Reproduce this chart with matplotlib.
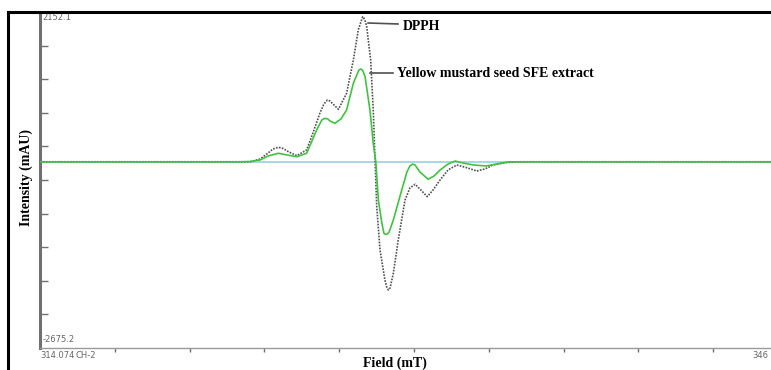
import numpy as np
import matplotlib.pyplot as plt
from matplotlib.lines import Line2D

# field (mT) and intensity (mAU)
dpph_field = [314.074, 320.0, 322.63, 323.06, 323.49, 323.83, 324.04, 324.27, 324.48, 324.64,
              325.06, 325.48, 325.75, 326.05, 326.22, 326.37, 326.48, 326.61, 326.84, 327.19,
              327.48, 327.69, 327.79, 327.88, 327.97, 328.05, 328.22, 328.33, 328.41, 328.48,
              328.62, 328.83, 328.91, 328.98, 329.05, 329.19, 329.40, 329.69, 329.90, 330.12,
              330.37, 330.64, 330.89, 331.19, 331.53, 331.90, 332.30, 332.76, 333.11, 333.45,
              334.04, 334.61, 340.0, 346.074]
dpph_int = [0, 0, 0, 0, 40, 126, 184, 208, 191, 155,
            88, 170, 414, 701, 830, 888, 873, 830, 754, 984,
            1463, 1894, 1997, 2085, 2043, 1941, 1463, 744, 0, -645,
            -1267, -1698, -1799, -1842, -1813, -1602, -1124, -549, -376, -323,
            -405, -501, -405, -261, -118, -46, -82, -132, -103, -46,
            -10, 0, 0, 0]

sfe_field = [314.074, 320.0, 322.63, 323.06, 323.49, 323.83, 324.27, 324.64, 325.06, 325.48,
             325.91, 326.13, 326.26, 326.39, 326.48, 326.69, 326.95, 327.19, 327.48, 327.68,
             327.72, 327.80, 327.88, 327.98, 328.19, 328.33, 328.44, 328.55, 328.70, 328.79,
             328.87, 328.94, 329.01, 329.19, 329.55, 329.77, 329.90, 330.02, 330.12, 330.33,
             330.68, 330.93, 331.19, 331.53, 331.83, 332.17, 332.62, 333.18, 333.75, 334.18,
             340.0, 346.074]
sfe_int = [0, 0, 0, 4, 26, 83, 122, 98, 73, 122,
           457, 600, 625, 615, 586, 553, 615, 744, 1128, 1290,
           1319, 1333, 1312, 1223, 744, 266, 0, -549, -884, -1030,
           -1042, -1037, -1009, -836, -405, -147, -60, -32, -46, -147,
           -251, -204, -118, -32, 11, -17, -46, -60, -22, 0,
           0, 0]

y_min, y_max = -2675.2, 2152.1
x_min, x_max = 314.074, 346.074

W, H = 771, 370
fig = plt.figure(figsize=(W / 100, H / 100), dpi=100)
fig.patch.set_facecolor("white")

# axes run a bit past the right edge of the picture, like the original crop
ax = fig.add_axes([40 / W, (H - 348) / H, (788 - 40) / W, 336 / H])
ax.set_xlim(x_min, x_max)
ax.set_ylim(y_min, y_max)

ax.axhline(0, color="#9fd3e3", lw=1.3, zorder=1)
ax.plot(dpph_field, dpph_int, color="#505050", lw=1.2, ls=(0, (1, 0.8)), zorder=2)
ax.plot(sfe_field, sfe_int, color="#3fc43f", lw=1.2, zorder=3)

for s in ["top", "right"]:
    ax.spines[s].set_visible(False)
ax.spines["left"].set_color("#707070")
ax.spines["left"].set_linewidth(2.2)
ax.spines["bottom"].set_color("#9a9a9a")
ax.spines["bottom"].set_linewidth(1.0)

ax.set_yticks(np.linspace(y_min, y_max, 11)[1:-1])
ax.set_xticks(np.linspace(x_min, x_max, 11)[1:-1])
ax.tick_params(axis="y", direction="in", length=6, width=1, color="#707070", labelleft=False)
ax.tick_params(axis="x", direction="out", length=3, width=1, color="#707070", labelbottom=False)

small = dict(fontsize=6, color="#666666", family="DejaVu Sans")
ax.text(0.003, 0.998, "2152.1", transform=ax.transAxes, va="top", ha="left", **small)
ax.text(0.003, 0.012, "-2675.2", transform=ax.transAxes, va="bottom", ha="left", **small)
fig.text(40 / W, 1 - 351 / H, "314.074", va="top", ha="left", **small)
fig.text(76 / W, 1 - 351 / H, "CH-2", va="top", ha="left", **small)
fig.text(752 / W, 1 - 351 / H, "346", va="top", ha="left", **small)

lab = dict(family="Liberation Serif", weight="bold", fontsize=10, color="black")
fig.text(395 / W, 1 - 363 / H, "Field (mT)", ha="center", va="center", **lab)
fig.text(26 / W, 1 - 178 / H, "Intensity (mAU)", ha="center", va="center", rotation=90, **lab)

# curve labels with leader lines
ax.plot([328.11, 329.39], [1994, 1980], color="#505050", lw=1.2)
ax.text(329.6, 1940, "DPPH", ha="left", va="center", **lab)
ax.plot([328.19, 329.17], [1280, 1280], color="#505050", lw=1.2)
ax.text(329.35, 1270, "Yellow mustard seed SFE extract", ha="left", va="center", **lab)

# outer frame, top and left only
fig.add_artist(Line2D([8 / W, 1], [1 - 12 / H, 1 - 12 / H], color="black", lw=2.2))
fig.add_artist(Line2D([8 / W, 8 / W], [0, 1 - 12 / H], color="black", lw=2.2))

fig.savefig("out.png", dpi=100)
